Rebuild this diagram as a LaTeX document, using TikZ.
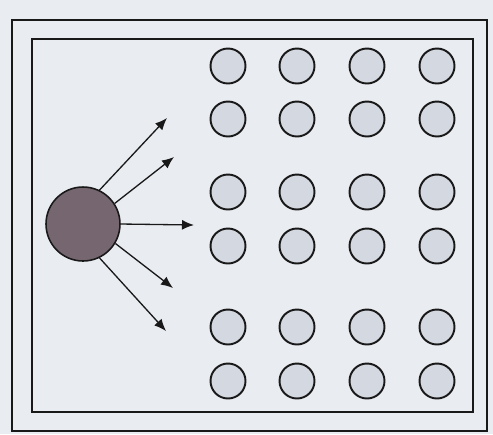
\documentclass[tikz,border=0pt]{standalone}
\usepackage[dvipsnames]{xcolor}
\usepackage{tikz}
\usetikzlibrary{arrows.meta}
\definecolor{paper}{RGB}{233,236,241}
\definecolor{dotfill}{RGB}{212,216,224}
\definecolor{srcfill}{RGB}{118,102,112}

\begin{document}
\begin{tikzpicture}[x=0.02cm, y=-0.02cm, >={Latex[length=2.4mm,width=2mm]},
  dot/.style={circle, draw=black!90, line width=1.1pt, fill=dotfill, minimum size=0.7cm, inner sep=0pt},
  src/.style={circle, draw=black!90, line width=0.9pt, fill=srcfill, minimum size=1.48cm, inner sep=0pt},
  frame/.style={draw=black!90, line width=0.9pt},
  ray/.style={->, draw=black!90, line width=0.75pt}]
\fill[paper] (0,0) rectangle (493,434);
\useasboundingbox (0,0) rectangle (493,434);
\draw[frame] (12,20) rectangle (487,431);
\draw[frame] (32,39) rectangle (473,412);
\node[src] (emit) at (83,224) {};
% receiver grid
\foreach \x [count=\i] in {228,297,367,437}
  \foreach \y [count=\j] in {66,119,192,246,327,381}
    \node[dot] (r-\j-\i) at (\x,\y) {};
% arrow ends
\coordinate (t1) at (167,118);
\coordinate (t2) at (174,157);
\coordinate (t3) at (194,225);
\coordinate (t4) at (173,288);
\coordinate (t5) at (166,331);
\draw[ray] (emit.64) -- (t1);
\draw[ray] (emit.33) -- (t2);
\draw[ray] (emit.0) -- (t3);
\draw[ray] (emit.-31) -- (t4);
\draw[ray] (emit.-64) -- (t5);
\end{tikzpicture}
\end{document}
